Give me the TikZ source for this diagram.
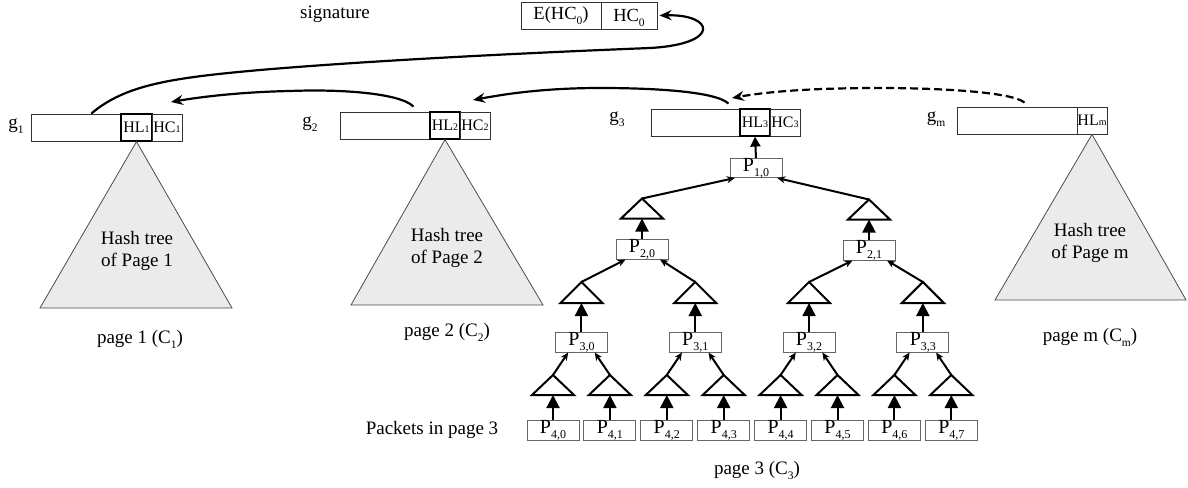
\documentclass[tikz,border=0pt]{standalone}
\usepackage{fontspec}
\setmainfont{Liberation Serif}
\usetikzlibrary{arrows.meta,calc}
\newcommand{\mysub}[1]{\raisebox{-4.5pt}[0pt][0pt]{\fontsize{11.5}{11.5}\selectfont #1}}
\newcommand{\mypsub}[1]{\raisebox{-5pt}[0pt][0pt]{\fontsize{12}{12}\selectfont #1}}
\newcommand{\mysmall}[1]{{\fontsize{10}{10}\selectfont #1}}
\begin{document}
\begin{tikzpicture}[x=1pt,y=-1pt,
  lbl/.style={font=\fontsize{19}{21.5}\selectfont, inner sep=0pt, align=center},
  gcell/.style={draw=black!80, line width=0.9pt, minimum height=27pt, inner sep=0pt, font=\fontsize{16}{16}\selectfont},
  hlcell/.style={gcell, draw=black, line width=1.2pt},
  pbox/.style={draw=black!60, line width=1pt, minimum width=52pt, minimum height=20pt, inner sep=0pt, text height=11pt, text depth=4pt, font=\fontsize{20}{20}\selectfont},
  bigtri/.style={draw=black!70, line width=0.8pt, fill=black!8},
  smalltri/.style={draw=black, line width=2pt, line join=miter},
  uparrow/.style={draw=black, line width=2pt, -{Triangle[length=13pt,width=13pt]}},
  linkarrow/.style={draw=black, line width=2pt, -{Stealth[length=8pt,width=7pt,inset=2.5pt]}},
  chainarrow/.style={draw=black, line width=2.2pt, -{Stealth[length=12pt,width=10pt,inset=4pt]}},
]
\useasboundingbox (0,0) rectangle (1188,487);

% signature
\node[lbl] (sig) at (335,14) {signature};
\node[gcell, minimum width=80pt, font=\fontsize{18.5}{18.5}\selectfont] (E) at (561,15.5) {E(HC\mysub{0})};
\node[gcell, minimum width=56pt, font=\fontsize{18.5}{18.5}\selectfont] (HC0) at (629,15.5) {HC\mysub{0}};

% g boxes
\node[gcell, minimum width=151pt] (g1) at (106.5,127.5) {};
\node[hlcell, minimum width=31pt] (HL1) at (136.5,127.5) {HL\mysmall{1}};
\node[gcell, minimum width=30pt] (HC1) at (167,127.5) {HC\mysmall{1}};
\node[lbl] (g1l) at (16,126) {g\mysub{1}};

\node[gcell, minimum width=150pt] (g2) at (415,125.5) {};
\node[hlcell, minimum width=30pt] (HL2) at (445,125.5) {HL\mysmall{2}};
\node[gcell, minimum width=30pt] (HC2) at (475,125.5) {HC\mysmall{2}};
\node[lbl] (g2l) at (310,124) {g\mysub{2}};

\node[gcell, minimum width=149pt] (g3) at (725.5,122.5) {};
\node[hlcell, minimum width=30pt] (HL3) at (755,122.5) {HL\mysmall{3}};
\node[gcell, minimum width=30pt] (HC3) at (785,122.5) {HC\mysmall{3}};
\node[lbl] (g3l) at (617,119) {g\mysub{3}};

\node[gcell, minimum width=150pt] (gm) at (1032,120.5) {};
\node[gcell, minimum width=30pt] (HLm) at (1092,120.5) {HL\mysmall{m}};
\node[lbl] (gml) at (936,119) {g\mysub{m}};

% big triangles
\draw[bigtri] (HL1.south) -- (232,308) -- (40,308) -- cycle;
\node[lbl] (t1) at (137,251) {Hash tree\\of Page 1};
\node[lbl] (p1) at (140,339) {page 1 (C\mysub{1})};

\draw[bigtri] (HL2.south) -- (543,305) -- (351,305) -- cycle;
\node[lbl] (t2) at (447,248) {Hash tree\\of Page 2};
\node[lbl] (p2) at (447,332) {page 2 (C\mysub{2})};

\draw[bigtri] (HLm.south) -- (1186,300) -- (995,300) -- cycle;
\node[lbl] (tm) at (1090,243) {Hash tree\\of Page m};
\node[lbl] (pm) at (1090,337) {page m (C\mysub{m})};

% page 3 tree
\foreach \k in {0,...,7}{
  \pgfmathsetmacro\xx{553+56.9*\k}
  \node[pbox] (P4\k) at (\xx,430) {P\mypsub{4,\k}};
  \coordinate (T3a\k) at (\xx,375);
  \coordinate (T3b\k) at (\xx,395);
  \draw[smalltri] (T3a\k) -- ++(21,20) -- ++(-42,0) -- cycle;
  \draw[uparrow] (P4\k.north) -- (T3b\k);
}
\foreach \j in {0,...,3}{
  \pgfmathsetmacro\xx{581.45+113.8*\j}
  \pgfmathtruncatemacro\a{2*\j}
  \pgfmathtruncatemacro\b{2*\j+1}
  \node[pbox] (P3\j) at (\xx,342) {P\mypsub{3,\j}};
  \coordinate (T2a\j) at (\xx,282);
  \coordinate (T2b\j) at (\xx,303);
  \draw[smalltri] (T2a\j) -- ++(21,21) -- ++(-42,0) -- cycle;
  \draw[uparrow] (P3\j.north) -- (T2b\j);
  \draw[linkarrow] (T3a\a) -- ($(P3\j.south)!0.5!(P3\j.south west)$);
  \draw[linkarrow] (T3a\b) -- ($(P3\j.south)!0.5!(P3\j.south east)$);
}
\node[pbox] (P20) at (642,249) {P\mypsub{2,0}};
\node[pbox] (P21) at (869,250) {P\mypsub{2,1}};
\foreach \j in {0,1}{
  \pgfmathtruncatemacro\a{2*\j}
  \pgfmathtruncatemacro\b{2*\j+1}
  \coordinate (T1a\j) at ($(P2\j.north)+(0,-40)$);
  \coordinate (T1b\j) at ($(P2\j.north)+(0,-20)$);
  \draw[smalltri] (T1a\j) -- ++(21,20) -- ++(-42,0) -- cycle;
  \draw[uparrow] (P2\j.north) -- (T1b\j);
  \draw[linkarrow] (T2a\a) -- ($(P2\j.south)!0.62!(P2\j.south west)$);
  \draw[linkarrow] (T2a\b) -- ($(P2\j.south)!0.68!(P2\j.south east)$);
}
\node[pbox, minimum height=19pt] (P10) at (756,168) {P\mypsub{1,0}};
\draw[linkarrow] (T1a0) -- ($(P10.south)!0.8!(P10.south west)$);
\draw[linkarrow] (T1a1) -- ($(P10.south)!0.8!(P10.south east)$);
\draw[draw=black, line width=2pt, -{Triangle[length=10pt,width=10pt]}] (P10.north) -- (HL3.south);

\node[lbl] (pk) at (432,430) {Packets in page 3};
\node[lbl] (p3) at (757,470) {page 3 (C\mysub{3})};

% chain of pages
\coordinate (s1) at ($(g1.north west)!0.4!(g1.north east)$);
\draw[chainarrow] (s1) .. controls (125,85) and (170,78) .. (260,70) .. controls (400,58) and (600,50) .. (650,48) .. controls (722,44) and (714,14) .. ([xshift=2pt]HC0.east);

\coordinate (s2) at ($(g2.north west)!0.49!(g2.north east)+(0,-5)$);
\coordinate (a1) at (171,102);
\draw[chainarrow] (s2) .. controls (400,93) and (340,89) .. (290,91) .. controls (240,92) and (200,97) .. (a1);

\coordinate (s3) at ($(g3.north west)!0.52!(g3.north east)+(0,-5)$);
\coordinate (a2) at (473,100);
\draw[chainarrow] (s3) .. controls (715,91) and (650,88) .. (600,88) .. controls (540,88) and (500,95) .. (a2);

\coordinate (s4) at ($(gm.north west)!0.45!(gm.north east)+(0,-4)$);
\coordinate (a3) at (732,98);
\draw[chainarrow, dash pattern=on 8pt off 4pt] (s4) .. controls (1012,92) and (940,88) .. (880,88) .. controls (800,88) and (760,93) .. (a3);
\end{tikzpicture}
\end{document}
